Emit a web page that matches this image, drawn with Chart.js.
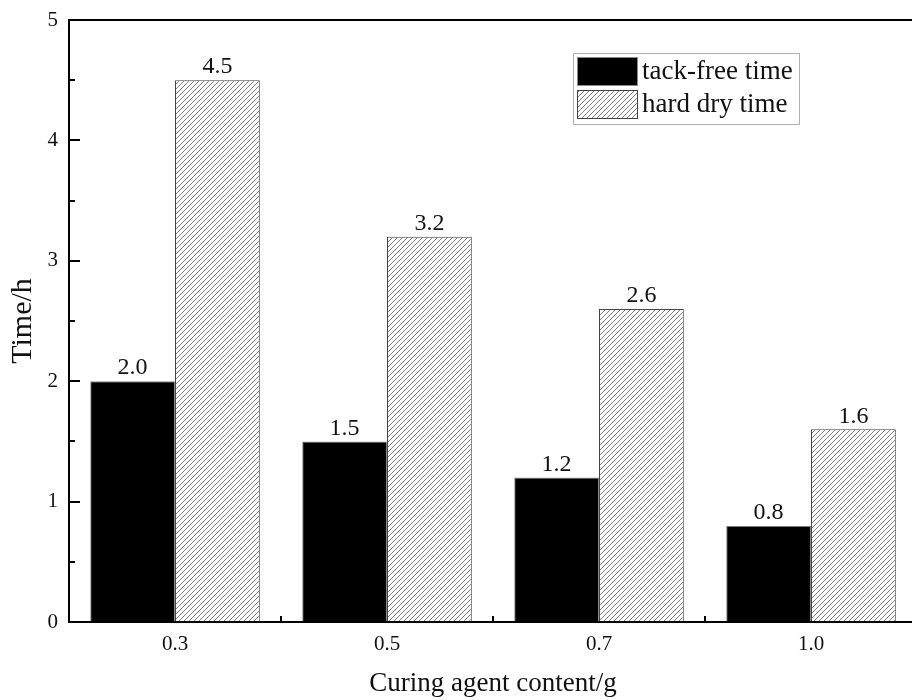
<!DOCTYPE html>
<html>
<head>
<meta charset="utf-8">
<script src="https://cdn.jsdelivr.net/npm/chart.js@4.4.1/dist/chart.umd.min.js"></script>
<style>
  html, body { margin: 0; padding: 0; background: #fff; }
  #wrap { width: 912px; height: 700px; overflow: hidden; position: relative; }
  canvas { display: block; }
</style>
</head>
<body>
<div id="wrap"><canvas id="c" width="925" height="700"></canvas></div>
<script>
// Curing agent content (g) and the drying times measured for each
const categories = ['0.3', '0.5', '0.7', '1.0'];
const tackFreeTime = [2.0, 1.5, 1.2, 0.8];
const hardDryTime = [4.5, 3.2, 2.6, 1.6];
const seriesNames = ['tack-free time', 'hard dry time'];
const yTicks = [0, 1, 2, 3, 4, 5];

const SERIF = '"Liberation Serif", "Times New Roman", serif';

// Diagonal hatch fill for the second series
function makeHatch() {
  const s = 5;
  const c = document.createElement('canvas');
  c.width = s; c.height = s;
  const g = c.getContext('2d');
  g.fillStyle = '#fff';
  g.fillRect(0, 0, s, s);
  g.strokeStyle = '#707070';
  g.lineWidth = 0.9;
  g.beginPath();
  g.moveTo(-1, s + 1); g.lineTo(s + 1, -1);
  g.moveTo(-1, 1); g.lineTo(1, -1);
  g.moveTo(s - 1, s + 1); g.lineTo(s + 1, s - 1);
  g.stroke();
  return g.createPattern(c, 'repeat');
}
const hatch = makeHatch();

// Frame, inward tick marks, value labels and legend
const decor = {
  id: 'decor',
  afterDatasetsDraw(chart) {
    const ctx = chart.ctx;
    const a = chart.chartArea;
    const xs = chart.scales.x, ys = chart.scales.y;
    ctx.save();

    // value labels above bars
    ctx.fillStyle = '#111';
    ctx.font = '24px ' + SERIF;
    ctx.textAlign = 'center';
    ctx.textBaseline = 'bottom';
    chart.data.datasets.forEach((ds, di) => {
      chart.getDatasetMeta(di).data.forEach((bar, i) => {
        ctx.fillText(ds.data[i].toFixed(1), bar.x, bar.y - 1);
      });
    });

    // frame
    ctx.strokeStyle = '#000';
    ctx.lineWidth = 2;
    ctx.strokeRect(a.left, a.top, a.right - a.left, a.bottom - a.top);

    // y ticks: major at labelled values, minor halfway between, pointing inward
    ctx.lineWidth = 2;
    ctx.beginPath();
    yTicks.forEach((v, i) => {
      const y = Math.round(ys.getPixelForValue(v));
      ctx.moveTo(a.left, y); ctx.lineTo(a.left + 11, y);
      if (i < yTicks.length - 1) {
        const ym = Math.round(ys.getPixelForValue((v + yTicks[i + 1]) / 2));
        ctx.moveTo(a.left, ym); ctx.lineTo(a.left + 6, ym);
      }
    });
    // x ticks at category boundaries, pointing inward
    for (let i = 0; i < categories.length - 1; i++) {
      const x = Math.round((xs.getPixelForValue(i) + xs.getPixelForValue(i + 1)) / 2);
      ctx.moveTo(x, a.bottom); ctx.lineTo(x, a.bottom - 6);
    }
    ctx.stroke();

    // legend
    const lx = 573, ly = 53, lw = 226, lh = 71;
    ctx.fillStyle = '#fff';
    ctx.fillRect(lx, ly, lw, lh);
    ctx.strokeStyle = '#b0b0b0';
    ctx.lineWidth = 1;
    ctx.strokeRect(lx + 0.5, ly + 0.5, lw, lh);
    ctx.font = '27px ' + SERIF;
    ctx.textAlign = 'left';
    ctx.textBaseline = 'middle';
    chart.data.datasets.forEach((ds, di) => {
      const sy = ly + 4 + di * 33;
      ctx.fillStyle = ds.backgroundColor;
      ctx.fillRect(lx + 4, sy, 61, 29);
      ctx.strokeStyle = ds.borderColor;
      ctx.strokeRect(lx + 4.5, sy + 0.5, 60, 28);
      ctx.fillStyle = '#111';
      ctx.fillText(ds.label, lx + 69, sy + 15);
    });
    ctx.restore();
  }
};

new Chart(document.getElementById('c'), {
  type: 'bar',
  data: {
    labels: categories,
    datasets: [
      { label: seriesNames[0], data: tackFreeTime, backgroundColor: '#000', borderColor: '#8a8a8a', borderWidth: 1 },
      { label: seriesNames[1], data: hardDryTime, backgroundColor: hatch, borderColor: '#444', borderWidth: 1 }
    ]
  },
  options: {
    responsive: false,
    animation: false,
    events: [],
    layout: { padding: { left: 0, top: 20, right: 8, bottom: 0 } },
    categoryPercentage: 0.8,
    barPercentage: 1.0,
    plugins: { legend: { display: false }, tooltip: { enabled: false } },
    scales: {
      x: {
        grid: { display: false, drawTicks: false },
        border: { display: false },
        ticks: { color: '#111', font: { family: SERIF, size: 21 }, padding: 10 },
        title: { display: true, text: 'Curing agent content/g', color: '#111',
                 font: { family: SERIF, size: 27 }, padding: { top: 0, bottom: 0 } },
        afterFit(s) { s.height = 78; s.paddingLeft = 0; s.paddingRight = 0; }
      },
      y: {
        min: 0, max: 5,
        grid: { display: false, drawTicks: false },
        border: { display: false },
        ticks: {
          stepSize: 1, color: '#111', font: { family: SERIF, size: 21 }, padding: 11
        },
        title: { display: true, text: 'Time/h', color: '#111',
                 font: { family: SERIF, size: 30 }, padding: { top: 5, bottom: 0 } },
        afterFit(s) { s.width = 69; s.paddingTop = 0; s.paddingBottom = 0; }
      }
    }
  },
  plugins: [decor]
});
</script>
</body>
</html>
